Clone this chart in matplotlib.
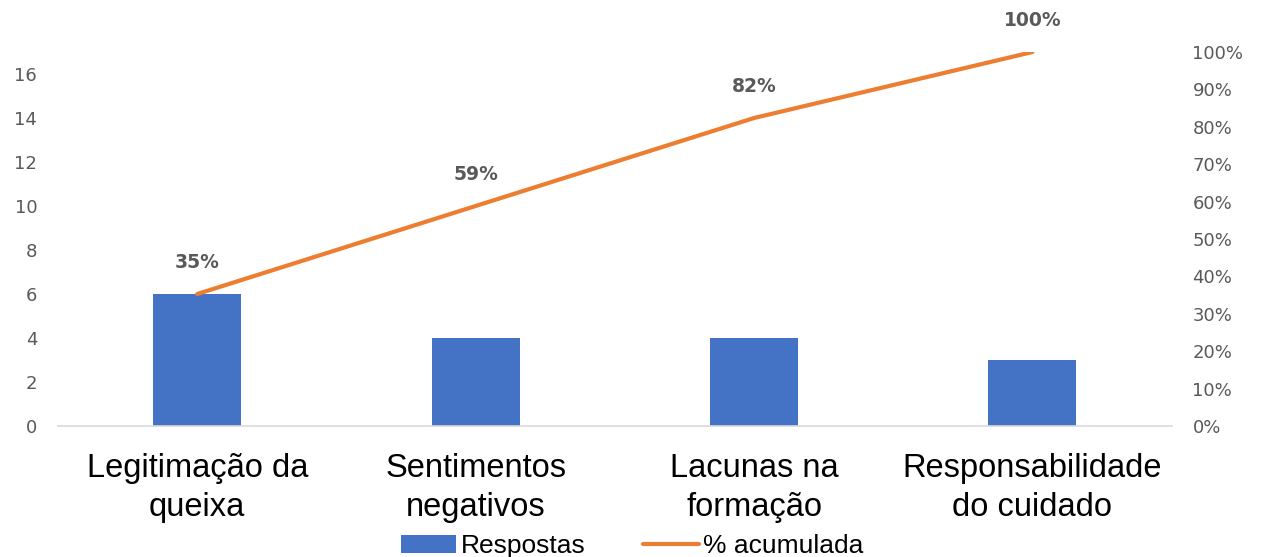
import numpy as np
import matplotlib.pyplot as plt
from matplotlib.ticker import PercentFormatter

# data
categorias = ['Legitimação da\nqueixa', 'Sentimentos\nnegativos',
              'Lacunas na\nformação', 'Responsabilidade\ndo cuidado']
respostas = [6, 4, 4, 3]

total = sum(respostas)
acumulada = np.cumsum(respostas) / total

plt.rcParams['font.family'] = ['Liberation Sans', 'DejaVu Sans']

fig = plt.figure(figsize=(12.64, 5.57), dpi=100)
ax = fig.add_axes([0.0459, 0.2352, 0.881, 0.6714])
x = np.arange(len(categorias))

bars = ax.bar(x, respostas, width=0.316, color='#4472C4', label='Respostas', zorder=2)
ax.set_xlim(-0.5, len(categorias) - 0.5)
ax.set_ylim(0, total)
ax.set_yticks(range(0, 17, 2))
ax.set_xticks(x)
ax.set_xticklabels(categorias, fontsize=23.5, color='#000000', linespacing=1.32)

ax2 = ax.twinx()
line, = ax2.plot(x, acumulada, color='#ED7D31', linewidth=3, label='% acumulada',
                 solid_capstyle='round', zorder=3)
ax2.set_ylim(0, 1)
ax2.set_yticks(np.arange(0, 1.01, 0.1))
ax2.yaxis.set_major_formatter(PercentFormatter(1.0, decimals=0))

for xi, v in zip(x, acumulada):
    ax2.annotate(f'{v:.0%}', (xi, v), xytext=(0, 15.5), textcoords='offset points',
                 ha='center', va='bottom', fontsize=13.5, fontweight='bold',
                 color='#595959', family=['DejaVu Sans'], annotation_clip=False)

for a in (ax, ax2):
    for s in a.spines.values():
        s.set_visible(False)
    a.tick_params(length=0, labelcolor='#595959')
    for lab in a.get_yticklabels():
        lab.set_family(['DejaVu Sans'])
        lab.set_fontsize(13)
ax.tick_params(axis='x', labelcolor='#000000', pad=19.5)
ax.tick_params(axis='y', pad=15)
ax2.tick_params(axis='y', pad=15)
ax.spines['bottom'].set_visible(True)
ax.spines['bottom'].set_color('#D9D9D9')
ax.spines['bottom'].set_linewidth(1.2)

fig.legend(handles=[bars, line], labels=['Respostas', '% acumulada'],
           loc='lower center', bbox_to_anchor=(0.5, -0.045), ncol=2,
           frameon=False, fontsize=19, handlelength=2.1, columnspacing=2.2,
           handletextpad=0.15)

fig.savefig('out.png', dpi=100)
